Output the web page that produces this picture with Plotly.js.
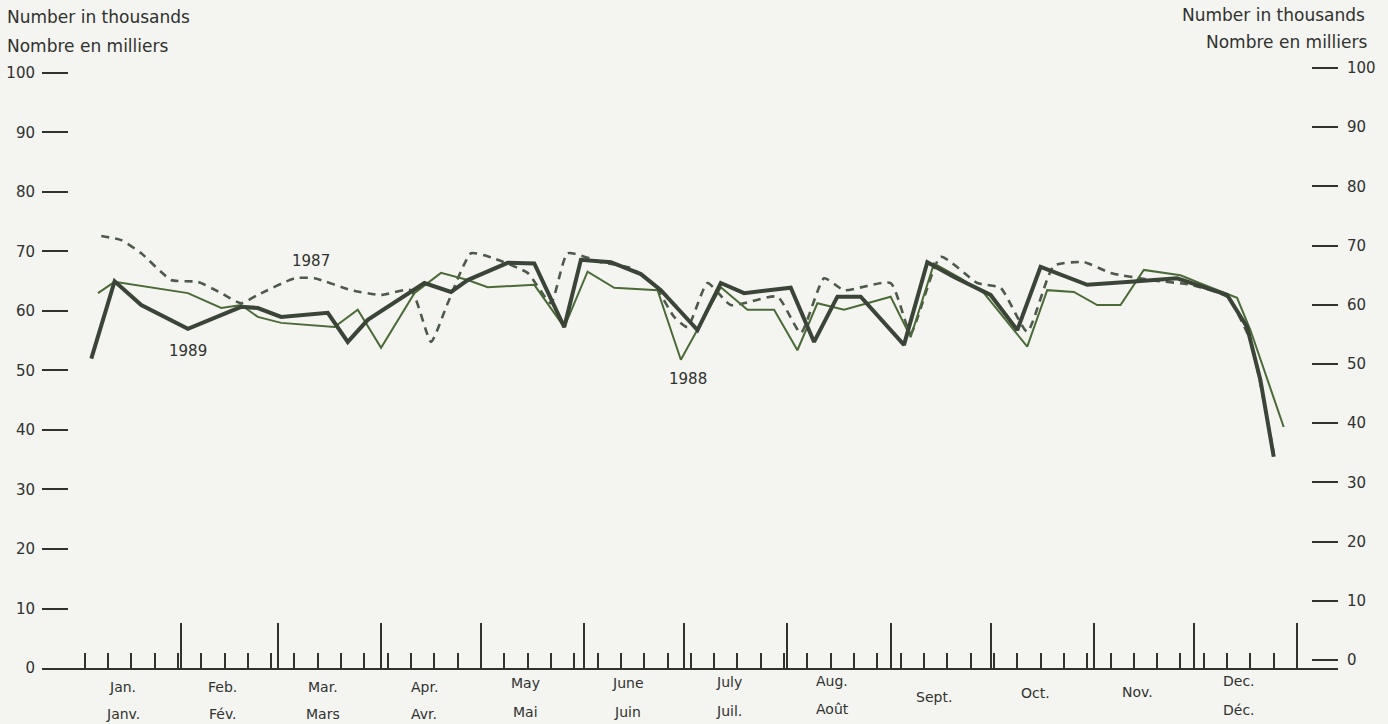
<!DOCTYPE html>
<html>
<head>
<meta charset="utf-8">
<script src="https://cdn.plot.ly/plotly-3.0.1.min.js"></script>
<style>
html,body{margin:0;padding:0;background:#f4f4f1;}
#chart{width:1388px;height:724px;}
</style>
</head>
<body>
<div id="chart"></div>
<script>
// ---- data (day of year; values in thousands) ----
const days1987 = [7,13,19,28,36,43,49,54,65,71,82,91,100,106,111,118,124,135,142,147,157,166,173,179,183,189,196,210,217,224,230,244,250,259,270,277,285,293,302,310,322,334,345,352,359];
const vals1987 = [72.6,71.9,69.7,65.2,64.9,63,61.3,62.7,65.5,65.5,63.5,62.7,63.5,54.8,61.3,69.7,69,66.4,61.3,69.7,68.2,67.2,64.4,59,57.3,64.7,61,62.4,56.3,65.5,63.5,64.7,56.3,69.1,64.7,63.9,56.5,67.6,68.2,66.4,65.2,64.4,62.4,55,36.1];

const days1988 = [6,11,33,43,49,54,61,77,84,91,101,109,117,123,137,146,153,161,174,181,193,201,209,216,222,230,244,250,257,265,272,285,291,299,306,313,320,331,338,348,352,362];
const vals1988 = [63,64.9,63,60.5,61,59,58,57.3,60.2,53.8,63,66.4,65.2,64,64.4,57.3,66.6,63.9,63.5,51.8,64,60.2,60.2,53.4,61.3,60.2,62.4,55.6,68,65.5,63,54,63.5,63.2,61,61,66.9,66,64.4,62.2,56.8,40.5];

const days1989 = [4,11,19,33,49,54,61,75,81,87,104,112,117,129,137,146,151,160,169,175,186,193,200,214,221,228,235,248,255,263,274,282,289,303,316,330,345,351,355,359];
const vals1989 = [52,65,61,57,60.7,60.5,59,59.7,54.8,58.5,64.7,63.2,65.2,68.1,68,57.3,68.6,68.2,66.2,63.5,56.8,64.7,63,63.9,54.8,62.4,62.4,54.3,68.2,65.7,62.7,56.8,67.4,64.4,64.9,65.5,62.7,57.3,48.4,35.5];

const monthEnds = [31,60,91,121,152,182,213,244,274,305,335,366];
const weekTicks = [2,9,16,23,30,37,44,51,58,65,72,79,86,93,100,107,114,121,128,135,142,149,156,163,170,177,184,191,198,205,212,219,226,233,240,247,254,261,268,275,282,289,296,303,310,317,324,331,338,345,352,359,366];
const monthsEn = ['Jan.','Feb.','Mar.','Apr.','May','June','July','Aug.','Sept.','Oct.','Nov.','Dec.'];
const monthsFr = ['Janv.','Fév.','Mars','Avr.','Mai','Juin','Juil.','Août','Sept.','Oct.','Nov.','Déc.'];
const yTicks = [0,10,20,30,40,50,60,70,80,90,100];

// ---- styling ----
const INK = '#2f322d';
const FONT = 'DejaVu Sans, Liberation Sans, Arial, sans-serif';
// vertical pixel offsets of the month label rows (EN, FR); null = single line
const enShift = [-19,-19,-19,-19,-15,-15,-14,-13,-29,-25,-24,-13];
const frShift = [-46,-46,-46,-46,-44,-44,-43,-41,null,null,null,-42];

const traces = [
  {x: days1987, y: vals1987, mode:'lines', name:'1987',
   line:{color:'#4d5a4a', width:2.6, dash:'8px,6px', shape:'spline', smoothing:0.5}},
  {x: days1988, y: vals1988, mode:'lines', name:'1988',
   line:{color:'#4a6a38', width:2, shape:'linear'}},
  {x: days1989, y: vals1989, mode:'lines', name:'1989',
   line:{color:'#3a4437', width:4, shape:'linear'}},
  // invisible trace to activate the right axis
  {x:[0], y:[0], yaxis:'y2', mode:'markers', marker:{opacity:0}, hoverinfo:'skip', showlegend:false}
];

const annotations = [];
const mid = i => (i === 0 ? monthEnds[0] / 2 : (monthEnds[i-1] + monthEnds[i]) / 2) - 2;
monthsEn.forEach((m, i) => {
  annotations.push({x: mid(i), y: 0, xref:'x', yref:'paper', yanchor:'middle', xanchor:'center',
    yshift: enShift[i], text: m, showarrow:false, font:{family:FONT, size:14, color:INK}});
  if (frShift[i] !== null) {
    annotations.push({x: mid(i), y: 0, xref:'x', yref:'paper', yanchor:'middle', xanchor:'center',
      yshift: frShift[i], text: monthsFr[i], showarrow:false, font:{family:FONT, size:14, color:INK}});
  }
});
const hdr = (text, x, xanchor, xshift, yshift) => ({text, x, y:1, xref:'paper', yref:'paper',
  xanchor, yanchor:'middle', xshift, yshift, showarrow:false, font:{family:FONT, size:17, color:INK}});
annotations.push(hdr('Number in thousands', 0, 'left', -37, 43));
annotations.push(hdr('Nombre en milliers', 0, 'left', -37, 14));
annotations.push(hdr('Number in thousands', 1, 'right', 29, 45));
annotations.push(hdr('Nombre en milliers', 1, 'right', 31, 18));
const lbl = (text, x, y) => ({text, x, y, xref:'x', yref:'y', showarrow:false,
  font:{family:FONT, size:15, color:INK}});
annotations.push(lbl('1987', 70, 68.4));
annotations.push(lbl('1989', 33, 53.3));
annotations.push(lbl('1988', 183, 48.6));

const layout = {
  width:1388, height:724,
  margin:{l:42, r:50, t:60, b:56},
  paper_bgcolor:'#f4f4f1', plot_bgcolor:'#f4f4f1',
  showlegend:false,
  font:{family:FONT, color:INK, size:15},
  xaxis:{range:[-10.8, 378.3], showgrid:false, zeroline:false,
    showline:true, linecolor:INK, linewidth:2,
    tickmode:'array', tickvals: monthEnds, ticks:'inside', ticklen:45, tickwidth:2, tickcolor:INK,
    showticklabels:false,
    minor:{tickmode:'array', tickvals: weekTicks, ticks:'inside', ticklen:15, tickwidth:2, tickcolor:INK, showgrid:false}},
  yaxis:{range:[0, 102.18], showgrid:false, zeroline:false, showline:false,
    tickmode:'array', tickvals: yTicks, ticks:'inside', ticklen:26, tickwidth:2, tickcolor:INK,
    ticklabelstandoff:6, tickfont:{family:FONT, size:15, color:INK}},
  yaxis2:{range:[-1.35, 101.35], overlaying:'y', side:'right', showgrid:false, zeroline:false, showline:false,
    tickmode:'array', tickvals: yTicks, ticks:'inside', ticklen:26, tickwidth:2, tickcolor:INK,
    ticklabelstandoff:8, tickfont:{family:FONT, size:15, color:INK}},
  annotations
};

Plotly.newPlot('chart', traces, layout, {displayModeBar:false, staticPlot:true});
</script>
</body>
</html>
